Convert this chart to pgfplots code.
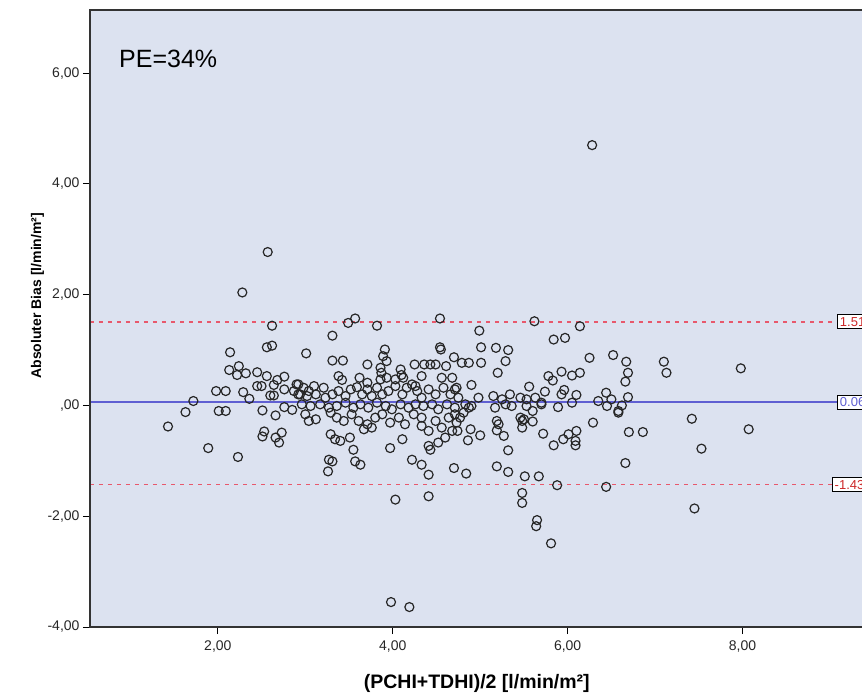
\documentclass[border=0pt]{standalone}
\usepackage{pgfplots}
\pgfplotsset{compat=1.18}
\usepackage{fontspec}
\setmainfont{Liberation Sans}
\definecolor{bgcol}{RGB}{220,226,240}
\definecolor{meanblue}{RGB}{95,95,210}
\definecolor{loared}{RGB}{232,88,108}
\definecolor{txtred}{RGB}{205,40,40}
\begin{document}
\begin{tikzpicture}
\begin{axis}[
  name=ax, at={(0,0)}, anchor=south west,
  scale only axis, width=772pt, height=617pt,
  xmin=0.538, xmax=9.366, ymin=-4, ymax=7.14,
  axis background/.style={fill=bgcol},
  axis line style={draw=none},
  tick align=outside, xtick pos=bottom, ytick pos=left,
  major tick length=7pt,
  tick style={black, line width=0.9pt},
  xtick={2,4,6,8}, xticklabels={{2,00},{4,00},{6,00},{8,00}},
  ytick={-4,-2,0,2,4,6}, yticklabels={{-4,00},{-2,00},{,00},{2,00},{4,00},{6,00}},
  ticklabel style={font=\fontsize{14}{16}\selectfont, color=black!85},
  xticklabel style={yshift=-3pt},
  xlabel={\textbf{(PCHI+TDHI)/2 [l/min/m²]}},
  ylabel={\textbf{Absoluter Bias [l/min/m²]}},
  xlabel style={font=\fontsize{19.5}{22}\selectfont, at={(axis description cs:0.501,-0.092)}, anchor=center},
  ylabel style={font=\fontsize{14}{17}\selectfont, at={(axis description cs:-0.068,0.537)}, anchor=center},
  clip=true,
]
\addplot[loared, line width=1.6pt, dash pattern=on 4pt off 5pt] coordinates {(0.538,1.51) (9.366,1.51)};
\addplot[loared, line width=1.6pt, dash pattern=on 4pt off 5pt] coordinates {(0.538,-1.43) (9.366,-1.43)};
\addplot[meanblue, line width=1.5pt] coordinates {(0.538,0.06) (9.366,0.06)};
\addplot[only marks, mark=o, mark size=4.5pt, mark options={line width=1.2pt, draw=black!85}] table {
x y
2.57 2.77
2.28 2.04
2.62 1.44
2.56 1.05
2.62 1.08
2.14 0.96
2.13 0.64
2.24 0.71
2.22 0.55
2.32 0.58
2.45 0.60
2.56 0.53
2.45 0.35
2.50 0.35
2.64 0.37
2.68 0.46
2.76 0.52
1.98 0.26
2.09 0.26
2.29 0.24
2.36 0.12
2.60 0.18
2.64 0.18
2.76 0.29
1.72 0.08
1.63 -0.12
2.01 -0.10
2.09 -0.10
2.51 -0.09
2.66 -0.18
2.76 -0.03
2.85 -0.08
1.43 -0.38
1.89 -0.77
2.23 -0.93
2.53 -0.47
2.51 -0.56
2.66 -0.58
2.73 -0.49
2.70 -0.67
2.90 0.38
2.92 0.20
2.87 0.26
3.49 1.49
3.57 1.57
3.82 1.44
3.31 1.26
4.54 1.57
3.01 0.94
3.31 0.81
3.43 0.81
3.71 0.74
3.91 1.01
3.89 0.89
3.93 0.80
4.54 1.05
4.55 1.01
4.25 0.74
4.36 0.74
4.43 0.74
4.49 0.74
4.61 0.71
4.70 0.87
3.38 0.53
3.42 0.46
3.62 0.50
3.71 0.41
3.86 0.68
3.87 0.59
3.86 0.47
3.93 0.50
4.09 0.65
4.10 0.55
4.03 0.47
4.12 0.50
4.33 0.53
4.26 0.35
4.56 0.50
4.68 0.50
2.92 0.38
2.98 0.32
3.04 0.26
3.10 0.35
2.94 0.20
3.02 0.17
3.12 0.20
3.21 0.32
3.23 0.14
3.31 0.20
3.38 0.26
3.46 0.17
3.52 0.29
3.59 0.33
3.65 0.20
3.71 0.29
3.76 0.17
3.82 0.32
3.88 0.20
3.95 0.26
4.03 0.35
4.11 0.20
4.16 0.32
4.22 0.38
4.28 0.26
4.33 0.14
4.41 0.29
4.49 0.20
4.58 0.32
4.66 0.20
4.71 0.29
2.96 0.02
3.06 -0.01
3.17 0.02
3.27 -0.04
3.36 -0.01
3.46 0.05
3.55 -0.04
3.63 0.02
3.72 -0.04
3.82 0.05
3.92 -0.01
3.99 -0.07
4.09 0.02
4.18 -0.04
4.26 0.02
4.35 -0.01
4.45 0.02
4.52 -0.07
4.62 0.02
4.71 -0.04
3.00 -0.16
3.04 -0.28
3.12 -0.25
3.29 -0.13
3.36 -0.22
3.44 -0.28
3.53 -0.16
3.61 -0.28
3.67 -0.43
3.71 -0.34
3.76 -0.40
3.80 -0.22
3.88 -0.16
3.97 -0.31
4.07 -0.22
4.14 -0.34
4.24 -0.16
4.33 -0.22
4.33 -0.37
4.41 -0.46
4.49 -0.28
4.56 -0.40
4.64 -0.22
4.68 -0.46
3.29 -0.52
3.34 -0.61
3.40 -0.64
3.51 -0.58
3.55 -0.80
3.97 -0.77
4.11 -0.61
4.41 -0.73
4.43 -0.80
4.52 -0.67
4.60 -0.58
3.27 -0.98
3.31 -1.01
3.26 -1.19
3.57 -1.01
3.63 -1.07
4.22 -0.98
4.33 -1.07
4.41 -1.25
4.70 -1.13
4.03 -1.70
4.41 -1.64
3.98 -3.55
4.19 -3.64
5.62 1.52
6.14 1.43
4.99 1.35
5.84 1.19
5.97 1.22
5.01 1.05
5.18 1.04
5.32 1.00
5.29 0.80
5.01 0.77
4.79 0.77
4.87 0.77
5.20 0.59
6.25 0.86
6.52 0.91
4.90 0.37
5.56 0.34
5.78 0.53
5.83 0.45
5.74 0.25
5.93 0.61
6.05 0.54
6.14 0.59
5.96 0.28
5.93 0.20
6.10 0.19
6.44 0.23
6.50 0.11
4.73 0.32
4.75 0.14
4.98 0.14
5.15 0.17
5.25 0.11
5.34 0.20
5.46 0.14
5.53 0.11
5.63 0.14
5.70 0.05
5.53 -0.01
4.83 0.02
4.90 -0.01
5.17 -0.04
5.29 0.02
5.36 -0.01
5.70 0.02
5.89 -0.03
6.05 0.05
6.35 0.08
6.45 -0.01
6.58 -0.10
4.71 -0.16
4.77 -0.22
4.73 -0.31
4.74 -0.46
4.87 -0.04
4.81 -0.13
4.89 -0.43
5.00 -0.54
4.86 -0.63
5.19 -0.28
5.21 -0.34
5.19 -0.45
5.27 -0.55
5.32 -0.81
5.46 -0.22
5.48 -0.28
5.50 -0.25
5.48 -0.40
5.60 -0.29
5.60 -0.10
5.72 -0.51
5.84 -0.72
5.95 -0.61
6.01 -0.52
6.10 -0.46
6.09 -0.64
6.09 -0.72
6.29 -0.31
5.19 -1.10
5.32 -1.20
5.51 -1.28
5.67 -1.28
5.88 -1.44
4.84 -1.23
5.48 -1.58
5.48 -1.76
5.65 -2.07
5.64 -2.18
5.81 -2.49
6.44 -1.47
6.28 4.70
6.67 0.79
6.69 0.59
6.66 0.43
7.10 0.79
7.13 0.59
7.98 0.67
6.69 0.15
6.62 0.00
6.58 -0.13
7.42 -0.24
6.70 -0.48
6.86 -0.48
8.07 -0.43
7.53 -0.78
6.66 -1.04
7.45 -1.86
};
\node[anchor=base west, inner sep=0pt, font=\fontsize{25}{30}\selectfont] at (axis cs:0.87,6.11) {PE=34\%};
\node[draw=black, line width=0.9pt, fill=white, text=txtred, anchor=west, inner sep=2.5pt, font=\fontsize{13}{15}\selectfont] at (axis cs:9.08,1.51) {1.51};
\node[draw=black, line width=0.9pt, fill=white, text=meanblue, anchor=west, inner sep=2.5pt, font=\fontsize{13}{15}\selectfont] at (axis cs:9.08,0.06) {0.06};
\node[draw=black, line width=0.9pt, fill=white, text=txtred, anchor=west, inner sep=2.5pt, font=\fontsize{13}{15}\selectfont] at (axis cs:9.02,-1.43) {-1.43};
\end{axis}
\draw[black!80, line width=1.3pt] (772pt,617pt) -- (0pt,617pt) -- (0pt,0pt) -- (772pt,0pt);
\pgfresetboundingbox
\path[use as bounding box] (-90pt,-69pt) rectangle (772pt,627pt);
\end{tikzpicture}
\end{document}
